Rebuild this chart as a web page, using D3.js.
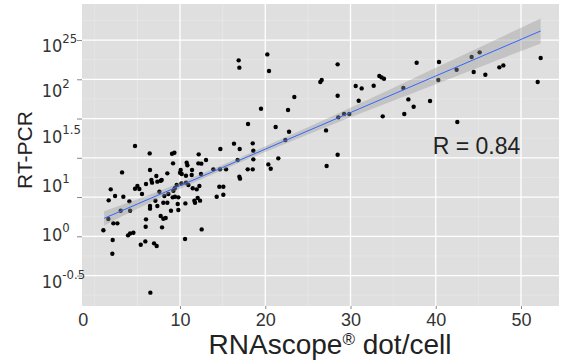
<!DOCTYPE html>
<html>
<head>
<meta charset="utf-8">
<script src="https://cdn.jsdelivr.net/npm/d3@7"></script>
<style>
  body { margin: 0; background: #fff; }
  .tick-label { font-family: "Liberation Sans Narrow", "DejaVu Sans Condensed", "Liberation Sans", sans-serif; fill: #333; }
</style>
</head>
<body>
<svg id="chart" width="561" height="364"></svg>
<script>
// RNAscope dots per cell (x) and log10 of RT-PCR value (y)
const dotsPerCell = [
  20.24, 16.88, 16.96, 20.44, 28.49, 26.46, 26.62, 30.61, 31.31, 32.72,
  33.38, 33.65, 33.93, 37.76, 40.38, 44.21, 45.15, 44.45, 45.82, 42.45,
  40.30, 47.46, 47.93, 52.31, 51.96, 36.20, 36.79, 37.41, 39.33, 36.31,
  33.78, 42.53, 30.96, 28.49, 28.57, 29.24, 29.86, 23.41, 22.67, 19.50,
  21.22, 22.79, 27.13, 22.36, 17.98,
  4.72, 6.44, 9.06, 9.34, 12.19, 13.05, 14.73, 16.33, 17.00, 18.53,
  18.60, 12.15, 12.50, 9.18, 10.78, 10.86, 10.08, 10.00, 10.20, 11.41,
  8.51, 6.48, 3.20, 7.22, 7.85, 6.64, 6.72, 6.01, 5.00, 5.23,
  4.72, 1.87, 5.54, 3.35, 2.38, 1.63, 4.06, 4.14, 3.04, 1.59,
  2.18, 2.65, 1.01, 2.10, 2.06, 3.90, 4.14, 4.53, 5.39, 5.93,
  6.95, 7.26, 6.52, 6.48, 6.48, 6.01, 5.97, 7.73, 8.04, 8.32,
  7.89, 8.94, 9.80, 9.73, 10.63, 11.76, 11.68, 10.59, 12.54, 12.07,
  12.35, 11.96, 12.27, 11.49, 10.70, 10.98, 10.16, 9.61, 9.38, 9.22,
  8.63, 8.16, 7.58, 7.11, 8.04, 8.51, 7.34, 9.14, 9.41, 9.80,
  14.61, 15.08, 15.08, 14.30, 13.91, 14.69, 15.40, 12.46, 16.76, 16.96,
  17.04, 17.94, 18.53, 18.60, 20.36, 20.64, 21.53, 27.20, 28.49, 11.37,
  10.70, 7.34, 7.73
];
const rtpcrLog10 = [
  2.317, 2.241, 2.148, 2.105, 2.190, 1.965, 1.990, 1.914, 1.884, 1.918,
  2.041, 2.024, 2.007, 2.211, 2.220, 2.283, 2.343, 2.092, 2.058, 2.122,
  1.990, 2.152, 2.177, 2.271, 1.965, 1.889, 1.744, 1.651, 1.723, 1.557,
  1.528, 1.456, 1.727, 1.791, 1.515, 1.557, 1.557, 1.774, 1.608, 1.625,
  1.392, 1.332, 1.349, 1.226, 1.430,
  1.150, 1.056, 1.052, 1.065, 1.044, 0.971, 1.112, 1.180, 1.112, 1.184,
  1.090, 0.929, 0.925, 0.929, 0.938, 0.904, 0.844, 0.810, 0.793, 0.844,
  0.802, 0.844, 0.814, 0.768, 0.717, 0.717, 0.683, 0.666, 0.640, 0.602,
  0.606, 0.598, 0.538, 0.504, 0.513, 0.458, 0.445, 0.326, 0.326, 0.220,
  0.165, 0.165, 0.076, -0.048, -0.222, 0.012, 0.037, 0.046, -0.107, -0.065,
  -0.090, -0.124, -0.718, 0.386, 0.352, 0.216, 0.122, 0.258, 0.224, 0.233,
  0.114, 0.326, 0.335, 0.411, 0.419, 0.428, 0.454, -0.035, 0.088, 0.487,
  0.454, 0.598, 0.640, 0.611, 0.683, 0.653, 0.674, 0.653, 0.611, 0.581,
  0.538, 0.513, 0.568, 0.453, 0.428, 0.428, 0.386, 0.496, 0.504, 0.496,
  0.632, 0.632, 0.530, 0.504, 0.853, 0.853, 0.853, 0.793, 0.971, 0.759,
  0.734, 0.853, 0.853, 0.980, 0.916, 0.861, 0.993, 0.895, 1.039, 0.780,
  0.772, 0.696, 0.708
];

// linear fit and its confidence band (log10 units)
const smoothX   = [1.1, 5, 10, 15, 20, 30, 40, 52.3];
const smoothFit = [0.229, 0.411, 0.644, 0.877, 1.110, 1.576, 2.042, 2.615];
const smoothLo  = [0.139, 0.351, 0.607, 0.844, 1.074, 1.516, 1.937, 2.457];
const smoothHi  = [0.319, 0.471, 0.681, 0.910, 1.146, 1.636, 2.147, 2.773];

// grid breaks and tick labels
const xMajor = [10, 20, 30, 40, 50];
const xMinor = [0, 5, 15, 25, 35, 45];
const yMajor = [-0.5, 0, 0.5, 1, 1.5, 2, 2.5];
const yMinor = [-0.75, -0.25, 0.25, 0.75, 1.25, 1.75, 2.25, 2.75];
const xLabelPos = [-1.4, 10, 20, 30, 40, 50];
const xLabels = ['0', '10', '20', '30', '40', '50'];
const yLabelPos = [2.436, 1.869, 1.271, 0.650, 0.026, -0.567];
const yLabelExp = ['25', '2', '1.5', '1', '0', '-0.5'];
const rText = 'R = 0.84';

const pLeft = 82, pTop = 4, pRight = 559, pBottom = 306;
const svg = d3.select('#chart');

const x = d3.scaleLinear().domain([-1.5, 54.46]).range([pLeft, pRight]);
const y = d3.scaleLinear().domain([-0.888, 2.959]).range([pBottom, pTop]);

// panel
svg.append('rect')
  .attr('x', pLeft).attr('y', pTop)
  .attr('width', pRight - pLeft).attr('height', pBottom - pTop)
  .attr('fill', '#dfdfdf');

// minor grid
svg.append('g').selectAll('line').data(yMinor.filter(v => y(v) > pTop && y(v) < pBottom)).enter()
  .append('line')
  .attr('x1', pLeft).attr('x2', pRight)
  .attr('y1', d => y(d)).attr('y2', d => y(d))
  .attr('stroke', '#ebebeb').attr('stroke-width', 0.6);
svg.append('g').selectAll('line').data(xMinor.filter(v => x(v) > pLeft && x(v) < pRight)).enter()
  .append('line')
  .attr('y1', pTop).attr('y2', pBottom)
  .attr('x1', d => x(d)).attr('x2', d => x(d))
  .attr('stroke', '#ebebeb').attr('stroke-width', 0.6);

// major grid
svg.append('g').selectAll('line').data(yMajor).enter()
  .append('line')
  .attr('x1', pLeft).attr('x2', pRight)
  .attr('y1', d => y(d)).attr('y2', d => y(d))
  .attr('stroke', '#fff').attr('stroke-width', 1.3);
svg.append('g').selectAll('line').data(xMajor).enter()
  .append('line')
  .attr('y1', pTop).attr('y2', pBottom)
  .attr('x1', d => x(d)).attr('x2', d => x(d))
  .attr('stroke', '#fff').attr('stroke-width', 1.3);

// points
svg.append('g').selectAll('circle').data(d3.range(Math.min(dotsPerCell.length, rtpcrLog10.length))).enter()
  .append('circle')
  .attr('cx', i => x(dotsPerCell[i]))
  .attr('cy', i => y(rtpcrLog10[i]))
  .attr('r', 2.2)
  .attr('fill', '#000');

// confidence band and fit line
const band = d3.area()
  .x(i => x(smoothX[i]))
  .y0(i => y(smoothLo[i]))
  .y1(i => y(smoothHi[i]))
  .curve(d3.curveMonotoneX);
svg.append('path')
  .attr('d', band(d3.range(smoothX.length)))
  .attr('fill', '#999').attr('fill-opacity', 0.4);

const fit = d3.line()
  .x(i => x(smoothX[i]))
  .y(i => y(smoothFit[i]));
svg.append('path')
  .attr('d', fit(d3.range(smoothX.length)))
  .attr('fill', 'none').attr('stroke', '#3366ff').attr('stroke-width', 1);

// tick marks
const yTicks = svg.append('g')
  .attr('transform', `translate(${pLeft},0)`)
  .call(d3.axisLeft(y).tickValues(yMajor).tickSize(5).tickFormat(''));
yTicks.select('.domain').remove();
yTicks.selectAll('line').attr('stroke', '#888');

const xTicks = svg.append('g')
  .attr('transform', `translate(0,${pBottom})`)
  .call(d3.axisBottom(x).tickValues(xMajor).tickSize(3).tickFormat(''));
xTicks.select('.domain').remove();
xTicks.selectAll('line').attr('stroke', '#888');

// y tick labels (10^k), left aligned
const yLab = svg.append('g')
  .attr('transform', `translate(${pLeft},0)`)
  .call(d3.axisLeft(y).tickValues(yLabelPos).tickSize(0));
yLab.select('.domain').remove();
yLab.selectAll('text')
  .attr('class', 'tick-label')
  .attr('x', 41.7 - pLeft)
  .attr('dy', '0.36em')
  .attr('text-anchor', 'start')
  .style('font-size', '18px')
  .text('')
  .each(function (d, i) {
    const t = d3.select(this);
    t.append('tspan').text('10');
    t.append('tspan').attr('dy', -9).style('font-size', '13px').text(yLabelExp[i]);
  });

// x tick labels
const xLab = svg.append('g')
  .attr('transform', `translate(0,${pBottom})`)
  .call(d3.axisBottom(x).tickValues(xLabelPos).tickSize(0).tickPadding(7)
    .tickFormat((d, i) => xLabels[i]));
xLab.select('.domain').remove();
xLab.selectAll('text')
  .style('font-family', '"Liberation Sans", Arial, sans-serif')
  .style('font-size', '18px')
  .attr('fill', '#333');

// axis titles
const xTitle = svg.append('text')
  .attr('x', 330).attr('y', 354)
  .attr('text-anchor', 'middle')
  .style('font-family', '"Liberation Sans", Arial, sans-serif')
  .style('font-size', '28px')
  .attr('fill', '#222');
xTitle.append('tspan').text('RNAscope');
xTitle.append('tspan').attr('dy', -9).style('font-size', '17px').text('®');
xTitle.append('tspan').attr('dy', 9).text(' dot/cell');

svg.append('text')
  .attr('transform', 'translate(32,150) rotate(-90)')
  .attr('text-anchor', 'middle')
  .style('font-family', '"Liberation Sans", Arial, sans-serif')
  .style('font-size', '21px')
  .attr('fill', '#222')
  .text('RT-PCR');

// correlation annotation
svg.append('text')
  .attr('x', x(39.64)).attr('y', y(1.048))
  .style('font-family', '"Liberation Sans", Arial, sans-serif')
  .style('font-size', '23px')
  .attr('fill', '#222')
  .text(rText);
</script>
</body>
</html>
